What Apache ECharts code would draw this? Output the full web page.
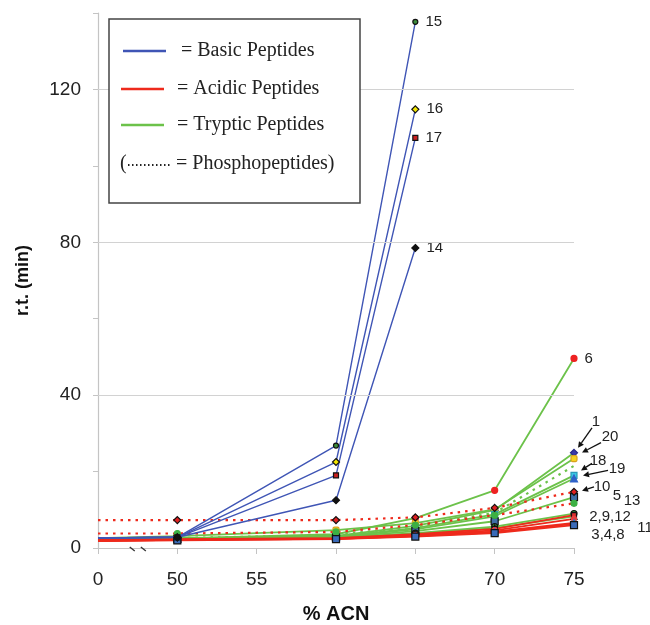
<!DOCTYPE html>
<html>
<head>
<meta charset="utf-8">
<script src="https://cdn.jsdelivr.net/npm/echarts@6/dist/echarts.min.js"></script>
<style>
  html, body { margin: 0; padding: 0; background: #fff; }
  #chart { width: 650px; height: 625px; }
</style>
</head>
<body>
<div id="chart"></div>
<script>
// % ACN positions of the measurements; 45 stands in for 0 % on the far side of the axis break
const acn = [45, 50, 60, 65, 70, 75];
const acnTickText = { 45: '0' };
const rtTickLabels = [0, 40, 80, 120];

// retention times (min) at 0, 50, 60, 65, 70, 75 % ACN
// basic peptides
const p15 = [2.6, 2.8, 26.8, 137.7];
const p16 = [2.6, 2.8, 22.5, 114.8];
const p17 = [2.6, 2.8, 19.0, 107.3];
const p14 = [2.6, 2.8, 12.5, 78.5];
// tryptic peptides
const p6 = [2.3, 2.5, 3.6, 7.8, 15.1, 49.6];
const p1 = [2.3, 2.5, 3.2, 5.8, 9.9, 24.9];
const p20 = [2.6, 3.1, 4.7, 6.5, 10.1, 23.4];
const p7 = [2.4, 2.6, 3.4, 5.6, 9.2, 21.5];
const p18 = [2.3, 2.5, 3.0, 5.2, 8.8, 19.0];
const p19 = [2.3, 2.5, 2.9, 4.9, 8.3, 18.2];
const p5 = [2.2, 2.4, 2.8, 4.4, 7.0, 13.3];
const p2 = [2.2, 2.4, 2.7, 3.9, 5.6, 9.0];
const p12 = [2.1, 2.3, 2.6, 3.7, 5.2, 8.3];
// acidic peptides
const p10 = [7.3, 7.3, 7.3, 8.0, 10.5, 14.7];
const p13 = [3.8, 3.8, 4.2, 6.0, 8.6, 11.7];
const p9 = [2.1, 2.3, 2.6, 3.6, 5.0, 8.6];
const p11 = [2.0, 2.2, 2.5, 3.4, 4.6, 7.6];
const p3 = [1.9, 2.1, 2.4, 3.2, 4.3, 6.6];
const p4 = [1.9, 2.1, 2.4, 3.1, 4.1, 6.3];
const p8 = [1.8, 2.0, 2.3, 3.0, 3.9, 6.0];

const BLUE = '#3f55b5', RED = '#ee2a1c', GREEN = '#6cc24a';
const classColor = { basic: BLUE, acidic: RED, tryptic: GREEN };

// line class, phospho (dotted) flag and marker look for each peptide
const peptides = [
  { name: '6',  values: p6,  cls: 'tryptic', symbol: 'circle',   size: 6, fill: '#ee2222', border: '#ee2222', endLabel: true },
  { name: '1',  values: p1,  cls: 'tryptic', symbol: 'diamond',  size: 7, fill: '#3a3aa8', border: '#2a2a88' },
  { name: '20', values: p20, cls: 'tryptic', symbol: 'roundRect',size: 6, fill: '#f6d320', border: '#d9a020' },
  { name: '7',  values: p7,  cls: 'tryptic', dotted: true, symbol: 'none' },
  { name: '18', values: p18, cls: 'tryptic', symbol: 'rect',     size: 6, fill: '#3cc8e4', border: '#2a9ab8' },
  { name: '19', values: p19, cls: 'tryptic', symbol: 'triangle', size: 7, fill: '#2f62c8', border: '#2f62c8' },
  { name: '5',  values: p5,  cls: 'tryptic', symbol: 'rect',     size: 7, fill: '#3f6fa8', border: '#111' },
  { name: '2',  values: p2,  cls: 'tryptic', symbol: 'circle',   size: 6, fill: '#3cb043', border: '#111' },
  { name: '12', values: p12, cls: 'tryptic', symbol: 'triangle', size: 6, fill: '#f2e600', border: '#111' },
  { name: '13', values: p13, cls: 'acidic', dotted: true, symbol: 'circle', size: 6, fill: '#3cb043', border: '#3cb043' },
  { name: '10', values: p10, cls: 'acidic', dotted: true, symbol: 'diamond', size: 7, fill: '#e02020', border: '#111' },
  { name: '9',  values: p9,  cls: 'acidic', symbol: 'rect',     size: 5, fill: '#e03030', border: '#111' },
  { name: '11', values: p11, cls: 'acidic', symbol: 'circle',   size: 5, fill: '#e84040', border: '#e84040' },
  { name: '3',  values: p3,  cls: 'acidic', symbol: 'triangle', size: 6, fill: '#2f6fd0', border: '#2f6fd0' },
  { name: '4',  values: p4,  cls: 'acidic', symbol: 'rect',     size: 5, fill: '#2a9a9a', border: '#2a9a9a' },
  { name: '8',  values: p8,  cls: 'acidic', symbol: 'rect',     size: 7, fill: '#3a6ab8', border: '#111' },
  { name: '15', values: p15, cls: 'basic', symbol: 'circle',  size: 5, fill: '#3c8c3c', border: '#111', endLabel: true },
  { name: '16', values: p16, cls: 'basic', symbol: 'diamond', size: 7, fill: '#f2e600', border: '#111', endLabel: true },
  { name: '17', values: p17, cls: 'basic', symbol: 'rect',    size: 5, fill: '#c82020', border: '#111', endLabel: true },
  { name: '14', values: p14, cls: 'basic', symbol: 'diamond', size: 7, fill: '#111',    border: '#111', endLabel: true }
];

const FONT = '"Liberation Sans", Arial, sans-serif';
const SERIF = '"Liberation Serif", "Times New Roman", serif';

function buildSeries(p) {
  const last = p.values.length - 1;
  const data = p.values.map((v, i) => {
    if (i === 0) return { value: [acn[i], v], symbol: 'none' };
    if (i === last && p.endLabel) {
      return {
        value: [acn[i], v],
        label: { show: true, position: 'right', distance: 7, formatter: p.name,
                 fontFamily: FONT, fontSize: 15, color: '#222' }
      };
    }
    return [acn[i], v];
  });
  return {
    type: 'line',
    name: p.name,
    data: data,
    z: p.cls === 'basic' ? 4 : 3,
    symbol: p.symbol || 'none',
    symbolSize: p.size || 5,
    showSymbol: true,
    itemStyle: { color: p.fill || classColor[p.cls], borderColor: p.border || '#000', borderWidth: 1.2 },
    lineStyle: {
      color: classColor[p.cls],
      width: p.dotted ? 2.2 : (p.cls === 'basic' ? 1.4 : 1.8),
      type: p.dotted ? [2.5, 5] : 'solid'
    },
    emphasis: { disabled: true },
    animation: false
  };
}

const chart = echarts.init(document.getElementById('chart'), null, { renderer: 'canvas' });

const gridSeries = {
  type: 'line',
  data: [],
  z: 1,
  silent: true,
  markLine: {
    silent: true,
    symbol: 'none',
    label: { show: false },
    lineStyle: { color: '#d2d2d2', type: 'solid', width: 1 },
    data: rtTickLabels.filter(v => v > 0).map(v => ({ yAxis: v }))
  },
  animation: false
};

chart.setOption({
  animation: false,
  grid: { left: 98, right: 76, top: 13, bottom: 77, outerBoundsMode: 'none' },
  xAxis: {
    type: 'value',
    min: 45, max: 75, interval: 5,
    name: '% ACN',
    nameLocation: 'middle',
    nameGap: 56,
    nameTextStyle: { fontFamily: FONT, fontSize: 20, fontWeight: 'bold', color: '#111' },
    axisLine: { lineStyle: { color: '#c4c4c4', width: 1.2 } },
    axisTick: { show: true, length: 6, lineStyle: { color: '#c4c4c4' } },
    axisLabel: {
      margin: 22,
      fontFamily: FONT, fontSize: 19, color: '#222',
      formatter: v => (acnTickText[v] !== undefined ? acnTickText[v] : String(v))
    },
    splitLine: { show: false }
  },
  yAxis: {
    type: 'value',
    min: 0, max: 140, interval: 20,
    name: 'r.t. (min)',
    nameLocation: 'middle',
    nameGap: 66,
    nameTextStyle: { fontFamily: FONT, fontSize: 18, fontWeight: 'bold', color: '#111' },
    axisLine: { show: true, lineStyle: { color: '#c4c4c4', width: 1.2 } },
    axisTick: { show: true, length: 5, lineStyle: { color: '#c4c4c4' } },
    axisLabel: {
      margin: 17,
      fontFamily: FONT, fontSize: 19, color: '#222',
      formatter: v => (rtTickLabels.indexOf(v) >= 0 ? String(v) : '')
    },
    splitLine: { show: false }
  },
  series: [gridSeries].concat(peptides.map(buildSeries))
});

// annotations beside the 75 % ACN cluster, anchored on each peptide's last point
const annotations = [
  { ref: '1',  text: '1',      dx: 22, dy: -31, arrow: [18, -25, 4, -5] },
  { ref: '20', text: '20',     dx: 36, dy: -22, arrow: [27, -16, 8, -6] },
  { ref: '18', text: '18',     dx: 24, dy: -15, arrow: [18, -12, 7, -5] },
  { ref: '19', text: '19',     dx: 43, dy: -10, arrow: [34, -8, 9, -3] },
  { ref: '10', text: '10',     dx: 28, dy: -5,  arrow: [20, -5, 8, -1] },
  { ref: '5',  text: '5',      dx: 43, dy: -1 },
  { ref: '13', text: '13',     dx: 58, dy: -2 },
  { ref: '2',  text: '2,9,12', dx: 36, dy: 3 },
  { ref: '11', text: '11',     dx: 71, dy: 9 },
  { ref: '3',  text: '3,4,8',  dx: 34, dy: 12 }
];

const graphics = [];

annotations.forEach(a => {
  const p = peptides.find(q => q.name === a.ref);
  const last = p.values.length - 1;
  const pt = chart.convertToPixel({ xAxisIndex: 0, yAxisIndex: 0 }, [acn[last], p.values[last]]);
  graphics.push({
    type: 'text', z: 20,
    x: pt[0] + a.dx, y: pt[1] + a.dy,
    style: { text: a.text, fontFamily: FONT, fontSize: 15, fill: '#222', align: 'center', verticalAlign: 'middle' }
  });
  if (a.arrow) {
    const x1 = pt[0] + a.arrow[0], y1 = pt[1] + a.arrow[1];
    const x2 = pt[0] + a.arrow[2], y2 = pt[1] + a.arrow[3];
    const ang = Math.atan2(y2 - y1, x2 - x1);
    const hl = 6, hw = 3;
    const bx = x2 - hl * Math.cos(ang), by = y2 - hl * Math.sin(ang);
    graphics.push({
      type: 'line', z: 20,
      shape: { x1: x1, y1: y1, x2: bx, y2: by },
      style: { stroke: '#111', lineWidth: 1.3 }
    });
    graphics.push({
      type: 'polygon', z: 20,
      shape: { points: [
        [x2, y2],
        [bx + hw * Math.sin(ang), by - hw * Math.cos(ang)],
        [bx - hw * Math.sin(ang), by + hw * Math.cos(ang)]
      ] },
      style: { fill: '#111' }
    });
  }
});

// axis-break marks between 0 and 50 % ACN
[47.0, 47.7].forEach(v => {
  const b = chart.convertToPixel({ xAxisIndex: 0, yAxisIndex: 0 }, [v, 0]);
  graphics.push({
    type: 'line', z: 20,
    shape: { x1: b[0], y1: b[1] - 1, x2: b[0] + 5, y2: b[1] + 3 },
    style: { stroke: '#333', lineWidth: 1.3 }
  });
});

// class legend box
graphics.push({
  type: 'rect', z: 30,
  shape: { x: 109, y: 19, width: 251, height: 184 },
  style: { fill: '#fff', stroke: '#444', lineWidth: 1.5 }
});
const legendRows = [
  { color: BLUE,  x1: 123, x2: 166, y: 51,  text: '= Basic Peptides',    tx: 181 },
  { color: RED,   x1: 121, x2: 164, y: 89,  text: '= Acidic Peptides',   tx: 177 },
  { color: GREEN, x1: 121, x2: 164, y: 125, text: '= Tryptic Peptides',  tx: 177 }
];
legendRows.forEach(r => {
  graphics.push({ type: 'line', z: 31, shape: { x1: r.x1, y1: r.y, x2: r.x2, y2: r.y },
    style: { stroke: r.color, lineWidth: 2.5 } });
  graphics.push({ type: 'text', z: 31, x: r.tx, y: r.y,
    style: { text: r.text, fontFamily: SERIF, fontSize: 20, fill: '#222', verticalAlign: 'middle' } });
});
graphics.push({ type: 'text', z: 31, x: 120, y: 164,
  style: { text: '(', fontFamily: SERIF, fontSize: 20, fill: '#222', verticalAlign: 'middle' } });
graphics.push({ type: 'line', z: 31, shape: { x1: 128, y1: 165, x2: 170, y2: 165 },
  style: { stroke: '#222', lineWidth: 2, lineDash: [1.5, 2.5] } });
graphics.push({ type: 'text', z: 31, x: 176, y: 164,
  style: { text: '= Phosphopeptides)', fontFamily: SERIF, fontSize: 20, fill: '#222', verticalAlign: 'middle' } });

chart.setOption({ graphic: graphics });
</script>
</body>
</html>
